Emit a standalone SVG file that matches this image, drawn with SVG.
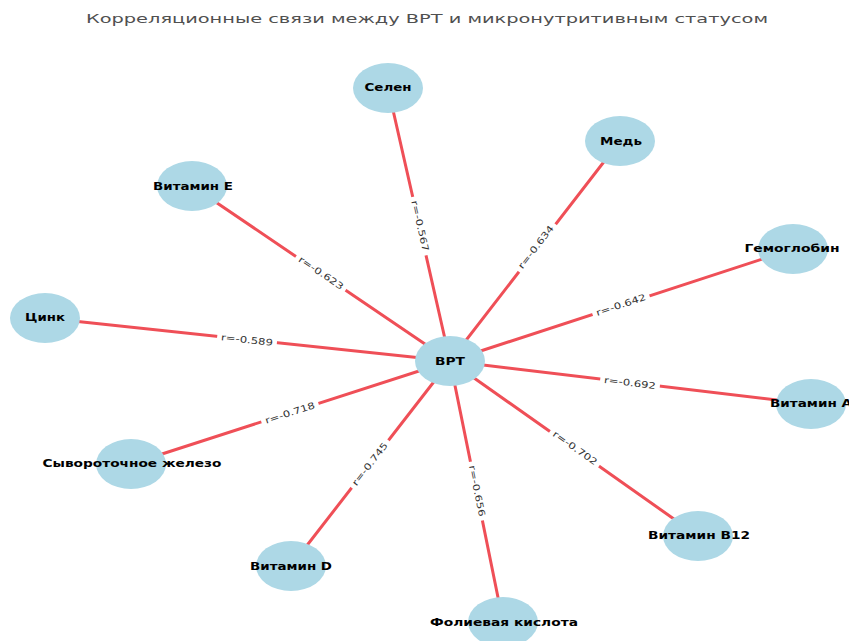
<svg xmlns="http://www.w3.org/2000/svg" width="849" height="641" viewBox="0 0 849 641">
<style>
.edge{stroke:#ef4f57;stroke-width:3;stroke-linecap:round}
.node{fill:#add8e6}
.nl{font-family:"DejaVu Sans",sans-serif;font-weight:bold;font-size:10.5px;fill:#000;text-anchor:middle;dominant-baseline:central}
.el{font-family:"DejaVu Sans",sans-serif;font-size:9px;fill:#333;text-anchor:middle;dominant-baseline:central}
.bg{fill:#fff}
.title{font-family:"DejaVu Sans",sans-serif;font-size:13px;fill:#505050}
</style>
<rect width="849" height="641" fill="#fff"/>
<text class="title" x="86" y="23" textLength="682" lengthAdjust="spacingAndGlyphs">Корреляционные связи между ВРТ и микронутритивным статусом</text>
<g id="connectors">
<line class="edge" x1="450" y1="361" x2="388" y2="88"/>
<line class="edge" x1="450" y1="361" x2="620" y2="141"/>
<line class="edge" x1="450" y1="361" x2="793" y2="249"/>
<line class="edge" x1="450" y1="361" x2="192" y2="186"/>
<line class="edge" x1="450" y1="361" x2="45" y2="318"/>
<line class="edge" x1="450" y1="361" x2="131" y2="464"/>
<line class="edge" x1="450" y1="361" x2="291" y2="566"/>
<line class="edge" x1="450" y1="361" x2="503" y2="622"/>
<line class="edge" x1="450" y1="361" x2="811" y2="404"/>
<line class="edge" x1="450" y1="361" x2="698" y2="536"/>
<g transform="translate(420,226) rotate(77.2)"><rect class="bg" x="-30" y="-6" width="60" height="12"/><text class="el" x="0" y="0" textLength="52" lengthAdjust="spacingAndGlyphs">r=-0.567</text></g>
<g transform="translate(536,247) rotate(-52.3)"><rect class="bg" x="-30" y="-6" width="60" height="12"/><text class="el" x="0" y="0" textLength="52" lengthAdjust="spacingAndGlyphs">r=-0.634</text></g>
<g transform="translate(621,305) rotate(-18.1)"><rect class="bg" x="-30" y="-6" width="60" height="12"/><text class="el" x="0" y="0" textLength="52" lengthAdjust="spacingAndGlyphs">r=-0.642</text></g>
<g transform="translate(321,273) rotate(34.1)"><rect class="bg" x="-30" y="-6" width="60" height="12"/><text class="el" x="0" y="0" textLength="52" lengthAdjust="spacingAndGlyphs">r=-0.623</text></g>
<g transform="translate(247,340) rotate(6.1)"><rect class="bg" x="-30" y="-6" width="60" height="12"/><text class="el" x="0" y="0" textLength="52" lengthAdjust="spacingAndGlyphs">r=-0.589</text></g>
<g transform="translate(290,413) rotate(-17.9)"><rect class="bg" x="-30" y="-6" width="60" height="12"/><text class="el" x="0" y="0" textLength="52" lengthAdjust="spacingAndGlyphs">r=-0.718</text></g>
<g transform="translate(370,464) rotate(-52.2)"><rect class="bg" x="-30" y="-6" width="60" height="12"/><text class="el" x="0" y="0" textLength="52" lengthAdjust="spacingAndGlyphs">r=-0.745</text></g>
<g transform="translate(477,491) rotate(78.5)"><rect class="bg" x="-30" y="-6" width="60" height="12"/><text class="el" x="0" y="0" textLength="52" lengthAdjust="spacingAndGlyphs">r=-0.656</text></g>
<g transform="translate(630,383) rotate(6.8)"><rect class="bg" x="-30" y="-6" width="60" height="12"/><text class="el" x="0" y="0" textLength="52" lengthAdjust="spacingAndGlyphs">r=-0.692</text></g>
<g transform="translate(575,448) rotate(35.2)"><rect class="bg" x="-30" y="-6" width="60" height="12"/><text class="el" x="0" y="0" textLength="52" lengthAdjust="spacingAndGlyphs">r=-0.702</text></g>
</g>
<g id="node-vrt"><ellipse class="node" cx="450" cy="361" rx="35" ry="25"/><text class="nl" x="450" y="361" textLength="30" lengthAdjust="spacingAndGlyphs">ВРТ</text></g>
<g id="node-selen"><ellipse class="node" cx="388" cy="88" rx="35" ry="25"/><text class="nl" x="388" y="87" textLength="47" lengthAdjust="spacingAndGlyphs">Селен</text></g>
<g id="node-med"><ellipse class="node" cx="620" cy="141" rx="35" ry="25"/><text class="nl" x="621" y="141" textLength="42" lengthAdjust="spacingAndGlyphs">Медь</text></g>
<g id="node-gemoglobin"><ellipse class="node" cx="793" cy="249" rx="35" ry="25"/><text class="nl" x="792" y="248" textLength="95" lengthAdjust="spacingAndGlyphs">Гемоглобин</text></g>
<g id="node-vitE"><ellipse class="node" cx="192" cy="186" rx="35" ry="25"/><text class="nl" x="193" y="186" textLength="80" lengthAdjust="spacingAndGlyphs">Витамин Е</text></g>
<g id="node-cink"><ellipse class="node" cx="45" cy="318" rx="35" ry="25"/><text class="nl" x="45" y="317" textLength="40" lengthAdjust="spacingAndGlyphs">Цинк</text></g>
<g id="node-zhelezo"><ellipse class="node" cx="131" cy="464" rx="35" ry="25"/><text class="nl" x="132" y="463" textLength="179" lengthAdjust="spacingAndGlyphs">Сывороточное железо</text></g>
<g id="node-vitD"><ellipse class="node" cx="291" cy="566" rx="35" ry="25"/><text class="nl" x="291" y="566" textLength="82" lengthAdjust="spacingAndGlyphs">Витамин D</text></g>
<g id="node-folievaya"><ellipse class="node" cx="503" cy="622" rx="35" ry="25"/><text class="nl" x="504" y="622" textLength="148" lengthAdjust="spacingAndGlyphs">Фолиевая кислота</text></g>
<g id="node-vitA"><ellipse class="node" cx="811" cy="404" rx="35" ry="25"/><text class="nl" x="811" y="403" textLength="82" lengthAdjust="spacingAndGlyphs">Витамин А</text></g>
<g id="node-vitB12"><ellipse class="node" cx="698" cy="536" rx="35" ry="25"/><text class="nl" x="699" y="535" textLength="102" lengthAdjust="spacingAndGlyphs">Витамин B12</text></g>
</svg>
